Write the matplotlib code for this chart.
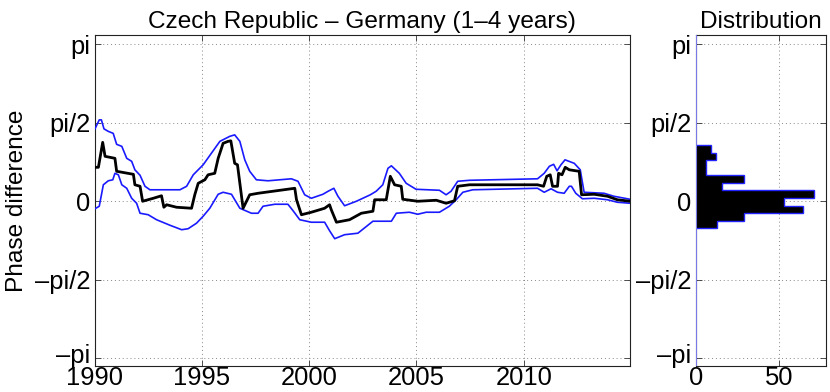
import numpy as np
import matplotlib
matplotlib.use("Agg")
import matplotlib.pyplot as plt
import matplotlib.transforms as mtransforms

# ---- data ----
phase_years = [1990.02, 1990.18, 1990.38, 1990.49, 1990.95, 1991.03, 1991.81, 1991.88, 1992.12, 1992.24,
               1992.74, 1993.12, 1993.23, 1993.36, 1993.82, 1994.52, 1994.67, 1994.83, 1995.14, 1995.29,
               1995.6, 1995.76, 1995.99, 1996.22, 1996.35, 1996.53, 1996.66, 1996.92, 1997.23, 1997.62,
               1999.33, 1999.41, 1999.64, 2000.1, 2000.72, 2000.95, 2001.03, 2001.27, 2001.88, 2002.43,
               2002.97, 2003.05, 2003.59, 2003.78, 2003.98, 2004.29, 2004.36, 2005.06, 2005.92, 2006.38,
               2006.77, 2006.92, 2007.47, 2008.86, 2010.64, 2010.92, 2011.07, 2011.23, 2011.34, 2011.57,
               2011.62, 2011.78, 2011.93, 2012.12, 2012.58, 2012.69, 2013.28, 2013.9, 2014.36, 2014.95]
phase_diff = [0.68, 0.68, 1.18, 0.90, 0.86, 0.60, 0.54, 0.33, 0.30, 0.00,
              0.06, 0.11, -0.12, -0.07, -0.12, -0.14, 0.13, 0.36, 0.43, 0.53,
              0.56, 0.86, 1.16, 1.20, 1.21, 0.76, 0.73, -0.14, 0.13, 0.16,
              0.26, 0.03, -0.27, -0.22, -0.14, -0.07, -0.17, -0.42, -0.37, -0.24,
              -0.20, 0.03, 0.03, 0.50, 0.33, 0.30, 0.04, 0.00, 0.02, -0.04,
              0.01, 0.30, 0.33, 0.33, 0.33, 0.30, 0.50, 0.53, 0.30, 0.30,
              0.56, 0.53, 0.68, 0.63, 0.60, 0.13, 0.14, 0.10, 0.03, 0.00]

upper_years = [1990.02, 1990.22, 1990.32, 1990.44, 1990.64, 1990.87, 1991.03, 1991.27, 1991.5, 1991.73,
               1991.88, 1992.12, 1992.35, 1992.58, 1993.98, 1994.29, 1994.6, 1995.06, 1995.84, 1996.3,
               1996.53, 1996.77, 1997.0, 1997.23, 1997.54, 1998.08, 1999.17, 1999.48, 1999.79, 2000.1,
               2000.64, 2000.88, 2001.15, 2001.34, 2001.65, 2002.2, 2002.85, 2003.12, 2003.43, 2003.67,
               2003.83, 2004.2, 2004.52, 2004.98, 2006.07, 2006.38, 2006.61, 2006.92, 2007.47, 2010.64,
               2010.95, 2011.19, 2011.39, 2011.55, 2011.73, 2011.92, 2012.35, 2012.63, 2012.81, 2013.74,
               2014.2, 2014.95]
upper_band = [1.45, 1.63, 1.63, 1.45, 1.40, 1.36, 1.14, 1.10, 0.86, 0.80,
              0.63, 0.52, 0.30, 0.23, 0.23, 0.30, 0.53, 0.73, 1.20, 1.30,
              1.33, 1.20, 0.83, 0.60, 0.43, 0.41, 0.45, 0.40, 0.13, 0.06,
              0.14, 0.20, 0.26, 0.10, -0.09, 0.00, 0.13, 0.20, 0.33, 0.66,
              0.71, 0.56, 0.36, 0.24, 0.22, 0.13, 0.20, 0.40, 0.42, 0.45,
              0.56, 0.70, 0.74, 0.61, 0.73, 0.83, 0.76, 0.63, 0.18, 0.16,
              0.10, 0.04]

lower_years = [1990.02, 1990.22, 1990.41, 1990.64, 1990.85, 1990.95, 1991.11, 1991.27, 1991.5, 1991.73,
               1991.96, 1992.12, 1992.5, 1992.89, 1993.51, 1994.06, 1994.36, 1994.75, 1995.06, 1995.37,
               1995.76, 1995.99, 1996.38, 1996.77, 1997.31, 1997.62, 1997.85, 1998.4, 1999.01, 1999.25,
               1999.56, 2000.1, 2000.72, 2000.95, 2001.19, 2001.65, 2002.27, 2002.97, 2003.83, 2004.06,
               2004.67, 2005.06, 2005.45, 2006.07, 2006.53, 2006.85, 2007.16, 2007.62, 2010.64, 2010.95,
               2011.27, 2011.57, 2011.88, 2012.12, 2012.22, 2012.42, 2012.73, 2013.28, 2013.9, 2014.36,
               2014.95]
lower_band = [-0.15, -0.10, 0.33, 0.41, 0.43, 0.56, 0.53, 0.33, 0.26, 0.06,
              -0.04, -0.24, -0.27, -0.37, -0.48, -0.57, -0.55, -0.44, -0.30, -0.14,
              0.14, 0.18, 0.14, -0.14, -0.24, -0.24, -0.10, -0.06, -0.06, -0.19,
              -0.37, -0.42, -0.42, -0.59, -0.75, -0.67, -0.64, -0.40, -0.40, -0.24,
              -0.22, -0.26, -0.22, -0.22, -0.10, 0.03, 0.18, 0.23, 0.26, 0.18,
              0.25, 0.18, 0.16, 0.30, 0.30, 0.16, 0.05, 0.06, 0.03, -0.02,
              -0.04]

# histogram of phase difference (11 equal bins, bottom to top)
hist_min, hist_max = -0.544, 1.128
hist_counts = [13, 29, 64, 53, 71, 16, 29, 6, 6, 12, 9]

year_ticks = [1990, 1995, 2000, 2005, 2010]
phase_ticks = [-np.pi, -np.pi / 2, 0, np.pi / 2, np.pi]
phase_labels = ["–pi", "–pi/2", "0", "pi/2", "pi"]
count_ticks = [0, 50]

title_main = "Czech Republic – Germany (1–4 years)"
title_hist = "Distribution"
ylabel = "Phase difference"

# ---- drawing ----
plt.rcParams['font.family'] = ['Liberation Sans Narrow', 'Liberation Sans', 'DejaVu Sans']
FS = 18.4
FS_T = 17.6

fig = plt.figure(figsize=(8.3, 3.92), dpi=100)
ax = fig.add_axes([0.1139, 0.0663, 0.6452, 0.8444])
axh = fig.add_axes([0.8382, 0.0663, 0.1570, 0.8444])

ylim = (-3.30, 3.33)


def style(a):
    a.set_ylim(*ylim)
    a.set_yticks(phase_ticks)
    a.set_yticklabels(phase_labels)
    a.tick_params(direction='in', length=4, width=0.6, labelsize=FS, top=True, right=True,
                  colors='#333333', labelcolor='black')
    a.tick_params(axis='y', pad=3)
    a.tick_params(axis='x', pad=0)
    a.grid(True, linestyle=(0, (1, 3)), color='#888888', linewidth=0.7)
    for s in a.spines.values():
        s.set_color('#222222')
        s.set_linewidth(0.8)
    # lift the lowest y label a little so it clears the first x label
    low = a.get_yticklabels()[0]
    low.set_transform(low.get_transform() +
                      mtransforms.ScaledTranslation(0, 0.045, fig.dpi_scale_trans))


ax.plot(upper_years, upper_band, color='#1a1aff', lw=1.2, zorder=3)
ax.plot(lower_years, lower_band, color='#1a1aff', lw=1.2, zorder=3)
ax.plot(phase_years, phase_diff, color='black', lw=2.0, zorder=4)
ax.set_xlim(1990, 2014.95)
ax.set_xticks(year_ticks)
style(ax)
ax.set_title(title_main, fontsize=FS_T, pad=5)
ax.set_ylabel(ylabel, fontsize=FS_T, labelpad=5)

edges = np.linspace(hist_min, hist_max, len(hist_counts) + 1)
axh.barh(edges[:-1], hist_counts, height=np.diff(edges), align='edge',
         color='black', linewidth=0, zorder=3)
axh.stairs(hist_counts, edges, orientation='horizontal', baseline=0,
           color='#2222ff', linewidth=1.0, zorder=4)
axh.axvline(0, color='#7878e8', lw=1.5, zorder=5)
axh.set_xlim(0, 78)
axh.set_xticks(count_ticks)
style(axh)
axh.set_title(title_hist, fontsize=FS_T, pad=5)

fig.savefig("out.png", dpi=100)
